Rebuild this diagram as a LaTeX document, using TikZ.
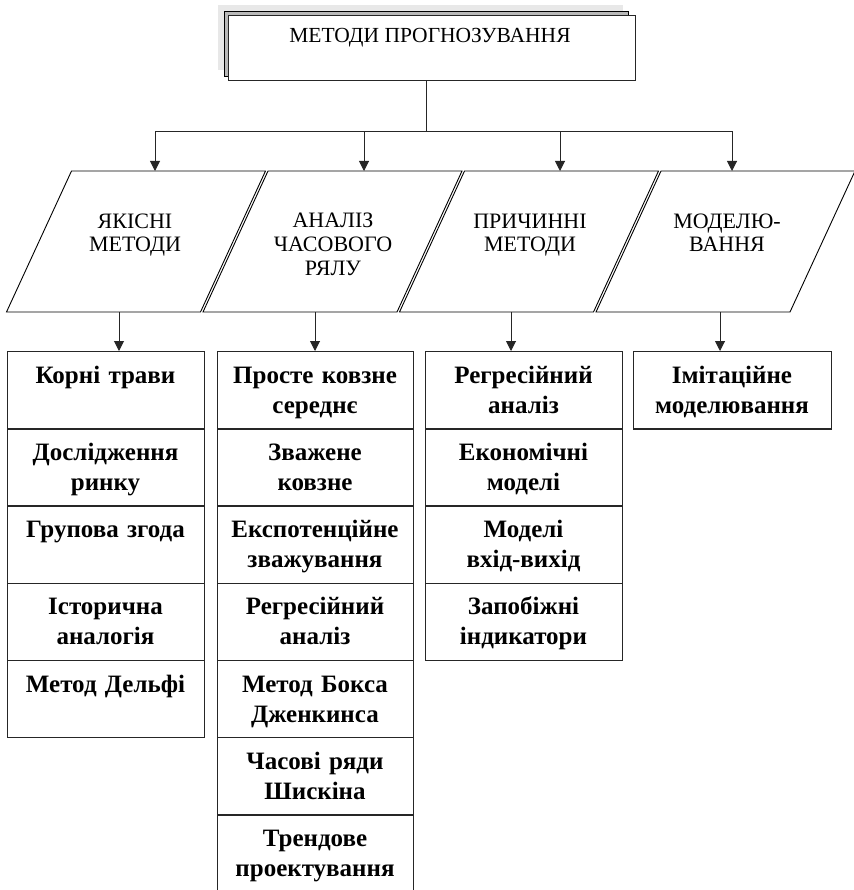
\documentclass[tikz,border=0pt]{standalone}
\usepackage{fontspec}
\setmainfont{Liberation Serif}
\usetikzlibrary{arrows.meta,calc}
\begin{document}
\begin{tikzpicture}[x=1pt,y=-1pt,
  link/.style={line width=1pt, draw=black!85},
  arrow/.style={link, -{Triangle[length=10pt,width=10pt]}},
  slantbox/.style={line width=0.9pt, draw=black},
  cell/.style={draw=black!85, line width=1.3pt, minimum width=197pt,
    minimum height=77.2pt, inner sep=0pt, anchor=north west},
  celltext/.style={anchor=north, inner sep=0pt, text width=190pt, align=center,
    font=\fontsize{25}{30}\selectfont\bfseries},
  headtext/.style={anchor=north, inner sep=0pt, align=center,
    font=\fontsize{22}{24}\selectfont},
]
\useasboundingbox (0,0) rectangle (853,890);

% title block with its layered shadow
\fill[gray!18] (218,5) rectangle (623,70);
\draw[fill=gray!55, line width=0.9pt] (224,11) rectangle (628,76);
\node[draw=black!85, fill=white, line width=1.2pt, minimum width=407pt,
  minimum height=65pt, inner sep=0pt, anchor=north west] (title) at (228,15) {};
\node[anchor=base, inner sep=0pt, font=\fontsize{21.5}{24}\selectfont]
  (titletext) at (430,43) {МЕТОДИ ПРОГНОЗУВАННЯ};

% four method groups (parallelograms)
\draw[slantbox] (71.5,171) -- (265.5,171) -- (200.5,312) -- (6.5,312) -- cycle;
\draw[slantbox] (268,171) -- (462,171) -- (397,312) -- (203,312) -- cycle;
\draw[slantbox] (464.5,171) -- (658.5,171) -- (593.5,312) -- (399.5,312) -- cycle;
\draw[slantbox] (661,171) -- (855,171) -- (790,312) -- (596,312) -- cycle;

\node[headtext] (h1) at (135,211) {\strut ЯКІСНІ\\МЕТОДИ};
\node[headtext] (h2) at (333,211) {\strut АНАЛІЗ\\ЧАСОВОГО\\РЯЛУ};
\node[headtext] (h3) at (530,211) {\strut ПРИЧИННІ\\МЕТОДИ};
\node[headtext] (h4) at (727,211) {\strut МОДЕЛЮ-\\ВАННЯ};

% entry and exit points of the parallelograms
\coordinate (hub) at (426,132);
\coordinate (in1) at (155,171);
\coordinate (in2) at (364,171);
\coordinate (in3) at (560,171);
\coordinate (in4) at (732,171);
\coordinate (out1) at (119,312);
\coordinate (out2) at (315,312);
\coordinate (out3) at (511,312);
\coordinate (out4) at (720,312);

% column 1
\foreach \r/\t in {0/{Корні трави},1/{Дослідження\\ринку},2/{Групова згода},
                   3/{Історична\\аналогія},4/{Метод Дельфі}}{
  \node[cell] (a\r) at (7,351+77.2*\r) {};
  \node[celltext] (ta\r) at (105.5,362+77.2*\r) {\strut\t};
}
% column 2
\foreach \r/\t in {0/{Просте ковзне\\середнє},1/{Зважене\\ковзне},
                   2/{Експотенційне\\зважування},3/{Регресійний\\аналіз},
                   4/{Метод Бокса\\Дженкинса},5/{Часові ряди\\Шискіна},
                   6/{Трендове\\проектування}}{
  \node[cell, minimum width=196pt] (b\r) at (217,351+77.2*\r) {};
  \node[celltext] (tb\r) at (315,362+77.2*\r) {\strut\t};
}
% column 3
\foreach \r/\t in {0/{Регресійний\\аналіз},1/{Економічні\\моделі},
                   2/{Моделі\\вхід-вихід},3/{Запобіжні\\індикатори}}{
  \node[cell] (c\r) at (425,351+77.2*\r) {};
  \node[celltext] (tc\r) at (523.5,362+77.2*\r) {\strut\t};
}
% column 4
\node[cell, minimum width=198pt] (d0) at (633,351) {};
\node[celltext] (td0) at (732,362) {\strut Імітаційне\\моделювання};

% connectors
\draw[link] (title.south -| hub) -- (hub);
\draw[arrow] (hub) -| (in1);
\draw[arrow] (hub) -| (in2);
\draw[arrow] (hub) -| (in3);
\draw[arrow] (hub) -| (in4);
\draw[arrow] (out1) -- (out1 |- a0.north);
\draw[arrow] (out2) -- (out2 |- b0.north);
\draw[arrow] (out3) -- (out3 |- c0.north);
\draw[arrow] (out4) -- (out4 |- d0.north);
\end{tikzpicture}
\end{document}
